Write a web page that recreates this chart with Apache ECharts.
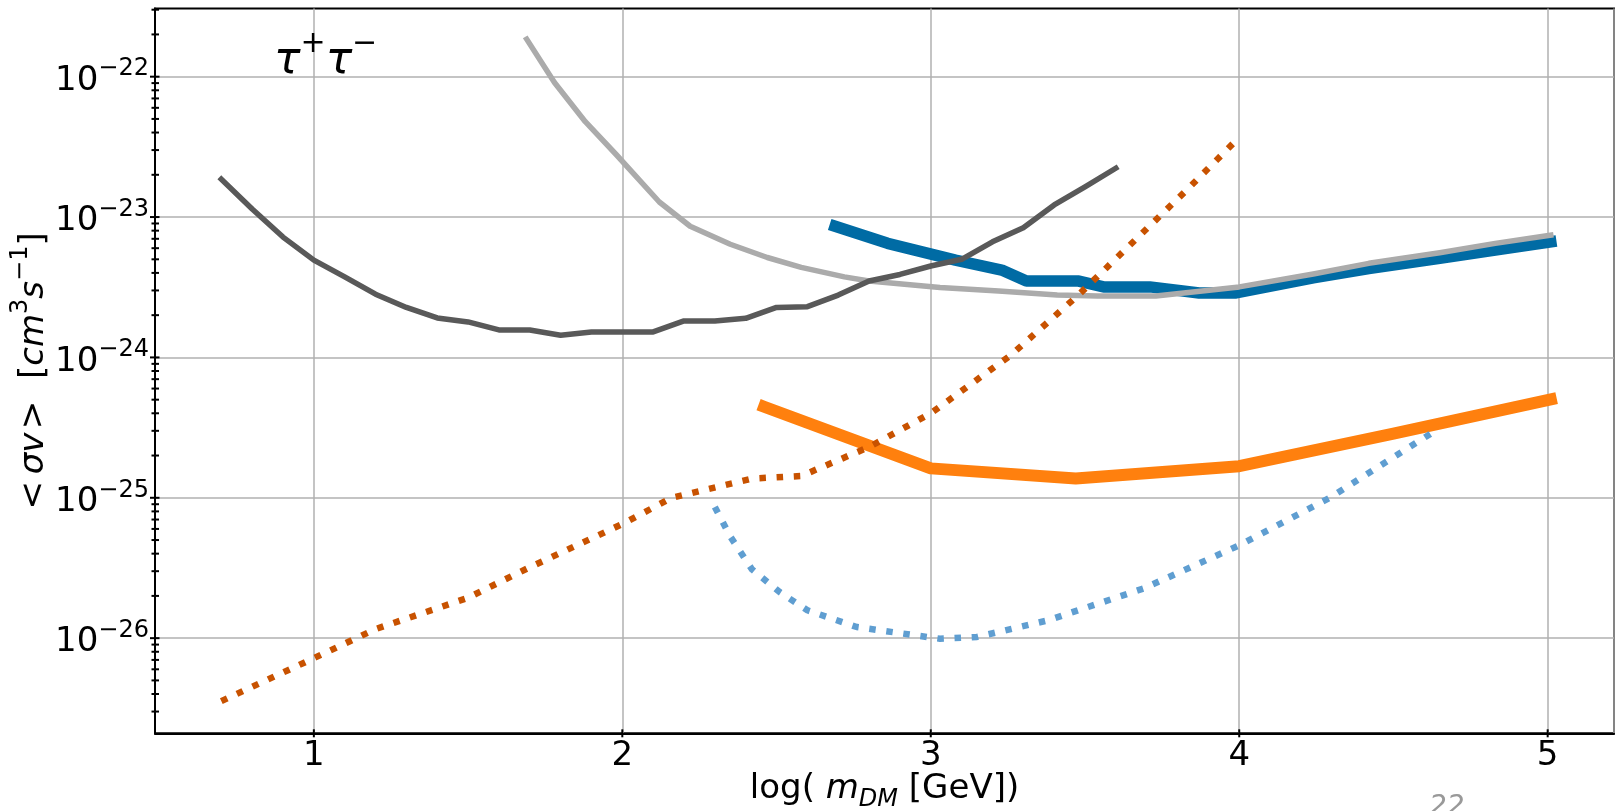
<!DOCTYPE html>
<html>
<head>
<meta charset="utf-8">
<script src="https://cdn.jsdelivr.net/npm/echarts@6/dist/echarts.min.js"></script>
<style>
html,body{margin:0;padding:0;background:#fff;}
#c{width:1616px;height:811px;}
</style>
</head>
<body>
<div id="c"></div>
<script>
// ---------- data (x = log10(m_DM / GeV), y = <sigma v> in cm^3 s^-1) ----------
const darkGrayX = [0.7,0.8,0.9,1.0,1.1,1.2,1.3,1.4,1.5,1.6,1.7,1.8,1.9,2.0,2.1,2.2,2.3,2.4,2.5,2.6,2.7,2.8,2.9,3.0,3.1,3.2,3.3,3.4,3.5,3.6];
const darkGrayY = [1.86e-23,1.14e-23,7.2e-24,4.93e-24,3.75e-24,2.82e-24,2.27e-24,1.91e-24,1.79e-24,1.57e-24,1.57e-24,1.44e-24,1.52e-24,1.52e-24,1.52e-24,1.82e-24,1.82e-24,1.90e-24,2.27e-24,2.30e-24,2.78e-24,3.5e-24,3.9e-24,4.48e-24,5.0e-24,6.66e-24,8.4e-24,1.22e-23,1.64e-23,2.23e-23];

const lightGrayX = [1.69,1.78,1.88,1.98,2.12,2.22,2.35,2.47,2.58,2.72,2.80,3.03,3.22,3.41,3.54,3.73,4.00,4.24,4.42,4.65,4.83,5.01];
const lightGrayY = [1.85e-22,9.1e-23,4.78e-23,2.79e-23,1.28e-23,8.6e-24,6.4e-24,5.15e-24,4.38e-24,3.75e-24,3.5e-24,3.15e-24,2.97e-24,2.78e-24,2.74e-24,2.74e-24,3.18e-24,3.93e-24,4.68e-24,5.57e-24,6.49e-24,7.44e-24];

const blueX = [2.69,2.86,3.08,3.23,3.31,3.48,3.56,3.71,3.87,3.99,4.24,4.42,4.65,4.83,5.01];
const blueY = [8.6e-24,6.5e-24,4.93e-24,4.19e-24,3.5e-24,3.5e-24,3.18e-24,3.18e-24,2.88e-24,2.88e-24,3.69e-24,4.3e-24,5.08e-24,5.82e-24,6.66e-24];

const orangeX = [2.46,3.0,3.47,4.0,4.5,5.01];
const orangeY = [4.45e-25,1.62e-25,1.37e-25,1.68e-25,2.87e-25,5.02e-25];

const darkOrangeDotX = [0.7,1.0,1.2,1.5,1.7,2.0,2.16,2.42,2.58,2.8,3.0,3.26,3.48,3.84,4.0];
const darkOrangeDotY = [3.56e-27,7.2e-27,1.16e-26,1.94e-26,3.2e-26,6.5e-26,1.0e-25,1.37e-25,1.43e-25,2.3e-25,4.0e-25,1.04e-24,2.8e-24,1.64e-23,3.7e-23];

const lightBlueDotX = [2.30,2.35,2.42,2.51,2.60,2.76,3.03,3.15,3.38,3.69,4.00,4.29,4.63];
const lightBlueDotY = [8.6e-26,5.3e-26,3.1e-26,2.13e-26,1.58e-26,1.2e-26,9.9e-27,1.02e-26,1.34e-26,2.26e-26,4.59e-26,9.9e-26,2.95e-25];

// ---------- axis ticks ----------
const xTickVals = [1,2,3,4,5];
const yMajorTicks = [1e-26,1e-25,1e-24,1e-23,1e-22];
const yMinorTicks = [3e-27,4e-27,5e-27,6e-27,7e-27,8e-27,9e-27,
  2e-26,3e-26,4e-26,5e-26,6e-26,7e-26,8e-26,9e-26,
  2e-25,3e-25,4e-25,5e-25,6e-25,7e-25,8e-25,9e-25,
  2e-24,3e-24,4e-24,5e-24,6e-24,7e-24,8e-24,9e-24,
  2e-23,3e-23,4e-23,5e-23,6e-23,7e-23,8e-23,9e-23,
  2e-22,3e-22];

const channelLabel = '{t|τ}{s|+}{t|τ}{s|−}';
const pageNumber = '22';

const xMin = 0.485, xMax = 5.215;
const yMin = 2.10e-27, yMax = 3.06e-22;

const FONT = '"DejaVu Sans", sans-serif';

function pairs(xs, ys){ return xs.map((x,i)=>[x, ys[i]]); }

function yTickSeries(vals, outLen, inLen){
  return {
    type:'custom', coordinateSystem:'cartesian2d', silent:true, clip:false, z:20,
    data: vals.map(v=>[xMin, v]),
    renderItem:(params, api)=>{
      const y = api.coord([api.value(0), api.value(1)])[1];
      const x0 = params.coordSys.x;
      return {type:'line', shape:{x1:x0-outLen, y1:y, x2:x0+inLen, y2:y},
        style:{stroke:'#000', lineWidth:2}};
    }
  };
}
function xTickSeries(vals, outLen, inLen){
  return {
    type:'custom', coordinateSystem:'cartesian2d', silent:true, clip:false, z:20,
    data: vals.map(v=>[v, yMin]),
    renderItem:(params, api)=>{
      const x = api.coord([api.value(0), api.value(1)])[0];
      const y0 = params.coordSys.y + params.coordSys.height;
      return {type:'line', shape:{x1:x, y1:y0-inLen, x2:x, y2:y0+outLen},
        style:{stroke:'#000', lineWidth:2}};
    }
  };
}

function tok(size, h, italic){
  const o = {fontFamily:FONT, fontSize:size, lineHeight:h, height:h, verticalAlign:'top', color:'#000'};
  if (italic) o.fontStyle = 'italic';
  return o;
}

const chart = echarts.init(document.getElementById('c'), null, {renderer:'canvas'});

const option = {
  animation:false,
  backgroundColor:'#fff',
  grid:{left:155, top:8.5, right:2, bottom:77.7, show:true, borderColor:'#000', borderWidth:2,
        backgroundColor:'transparent', containLabel:false, outerBoundsMode:'none'},
  xAxis:{
    type:'value', min:xMin, max:xMax, splitNumber:5,
    axisLine:{show:true, onZero:false, lineStyle:{color:'#000', width:2}},
    axisTick:{show:false},
    splitLine:{show:true, lineStyle:{color:'#b0b0b0', width:1.5}},
    axisLabel:{
      color:'#000', fontFamily:FONT, fontSize:34, margin:6,
      formatter:(v)=>{ const r=Math.round(v); return (isFinite(v) && Math.abs(v-r)<1e-6) ? String(r) : ''; }
    },
    name:'{n|log( }{i|m}{d|DM}{n| [GeV])}',
    nameLocation:'middle', nameGap:39, nameMoveOverlap:false,
    nameTextStyle:{
      color:'#000', fontFamily:FONT, fontSize:34,
      rich:{ n:tok(34,34,false), i:tok(34,34,true), d:tok(24,54,true) }
    }
  },
  yAxis:{
    type:'log', logBase:10, min:yMin, max:yMax,
    axisLine:{show:true, onZero:false, lineStyle:{color:'#000', width:2}},
    axisTick:{show:false},
    minorTick:{show:false},
    splitLine:{show:true, lineStyle:{color:'#b0b0b0', width:1.5}},
    axisLabel:{
      color:'#000', fontFamily:FONT, margin:6, padding:[9,0,0,0],
      formatter:(v)=>{
        if (!(v > 0)) return '';
        const e=Math.log10(v); const r=Math.round(e);
        if (!isFinite(e) || Math.abs(e-r)>1e-6) return '';
        return '{b|10}{s|−'+(-r)+'}';
      },
      rich:{ b:tok(34,34,false), s:tok(24,10,false) }
    },
    name:'{n|<\u2009}{i|σv}{n|\u200A>  [}{i|cm}{p|3}{i|s}{p|−1}{n|]}',
    nameLocation:'middle', nameGap:104, nameRotate:90, nameMoveOverlap:false,
    nameTextStyle:{
      color:'#000', fontFamily:FONT, fontSize:34,
      rich:{ n:tok(34,34,false), i:tok(34,34,true), p:tok(24,8,false) }
    }
  },
  graphic:[
    {type:'text', x:274, y:40, z:30, silent:true,
      style:{text:channelLabel, verticalAlign:'top', align:'left',
        rich:{
          t:{fontFamily:FONT, fontSize:44, lineHeight:44, height:44, verticalAlign:'top', fontStyle:'italic', fill:'#000'},
          s:{fontFamily:FONT, fontSize:30, lineHeight:8, height:8, verticalAlign:'top', fill:'#000'}
        }}},
    {type:'text', x:1429, y:794, z:30, silent:true,
      style:{text:pageNumber, fontFamily:FONT, fontSize:28, fontStyle:'italic', fill:'#999999', verticalAlign:'top', align:'left'}}
  ],
  series:[
    {type:'line', name:'blue', data:pairs(blueX, blueY), symbol:'none', showSymbol:false,
      lineStyle:{color:'#006BA4', width:11.5, cap:'square', join:'round'}, z:2},
    {type:'line', name:'orange', data:pairs(orangeX, orangeY), symbol:'none', showSymbol:false,
      lineStyle:{color:'#FF800E', width:12, cap:'square', join:'round'}, z:3},
    {type:'line', name:'lightgray', data:pairs(lightGrayX, lightGrayY), symbol:'none', showSymbol:false,
      lineStyle:{color:'#ABABAB', width:5.5, cap:'square', join:'round'}, z:4},
    {type:'line', name:'darkgray', data:pairs(darkGrayX, darkGrayY), symbol:'none', showSymbol:false,
      lineStyle:{color:'#595959', width:5.5, cap:'square', join:'round'}, z:5},
    {type:'line', name:'lightblue dotted', data:pairs(lightBlueDotX, lightBlueDotY), symbol:'none', showSymbol:false,
      lineStyle:{color:'#5F9ED1', width:6.5, type:[6.5,10.7], cap:'butt', join:'round'}, z:6},
    {type:'line', name:'darkorange dotted', data:pairs(darkOrangeDotX, darkOrangeDotY), symbol:'none', showSymbol:false,
      lineStyle:{color:'#C85200', width:6.5, type:[6.5,10.7], cap:'butt', join:'round'}, z:7},
    yTickSeries(yMajorTicks, 5, 4.5),
    yTickSeries(yMinorTicks, 3.5, 4),
    xTickSeries(xTickVals, 4, 4)
  ]
};
chart.setOption(option);
</script>
</body>
</html>
